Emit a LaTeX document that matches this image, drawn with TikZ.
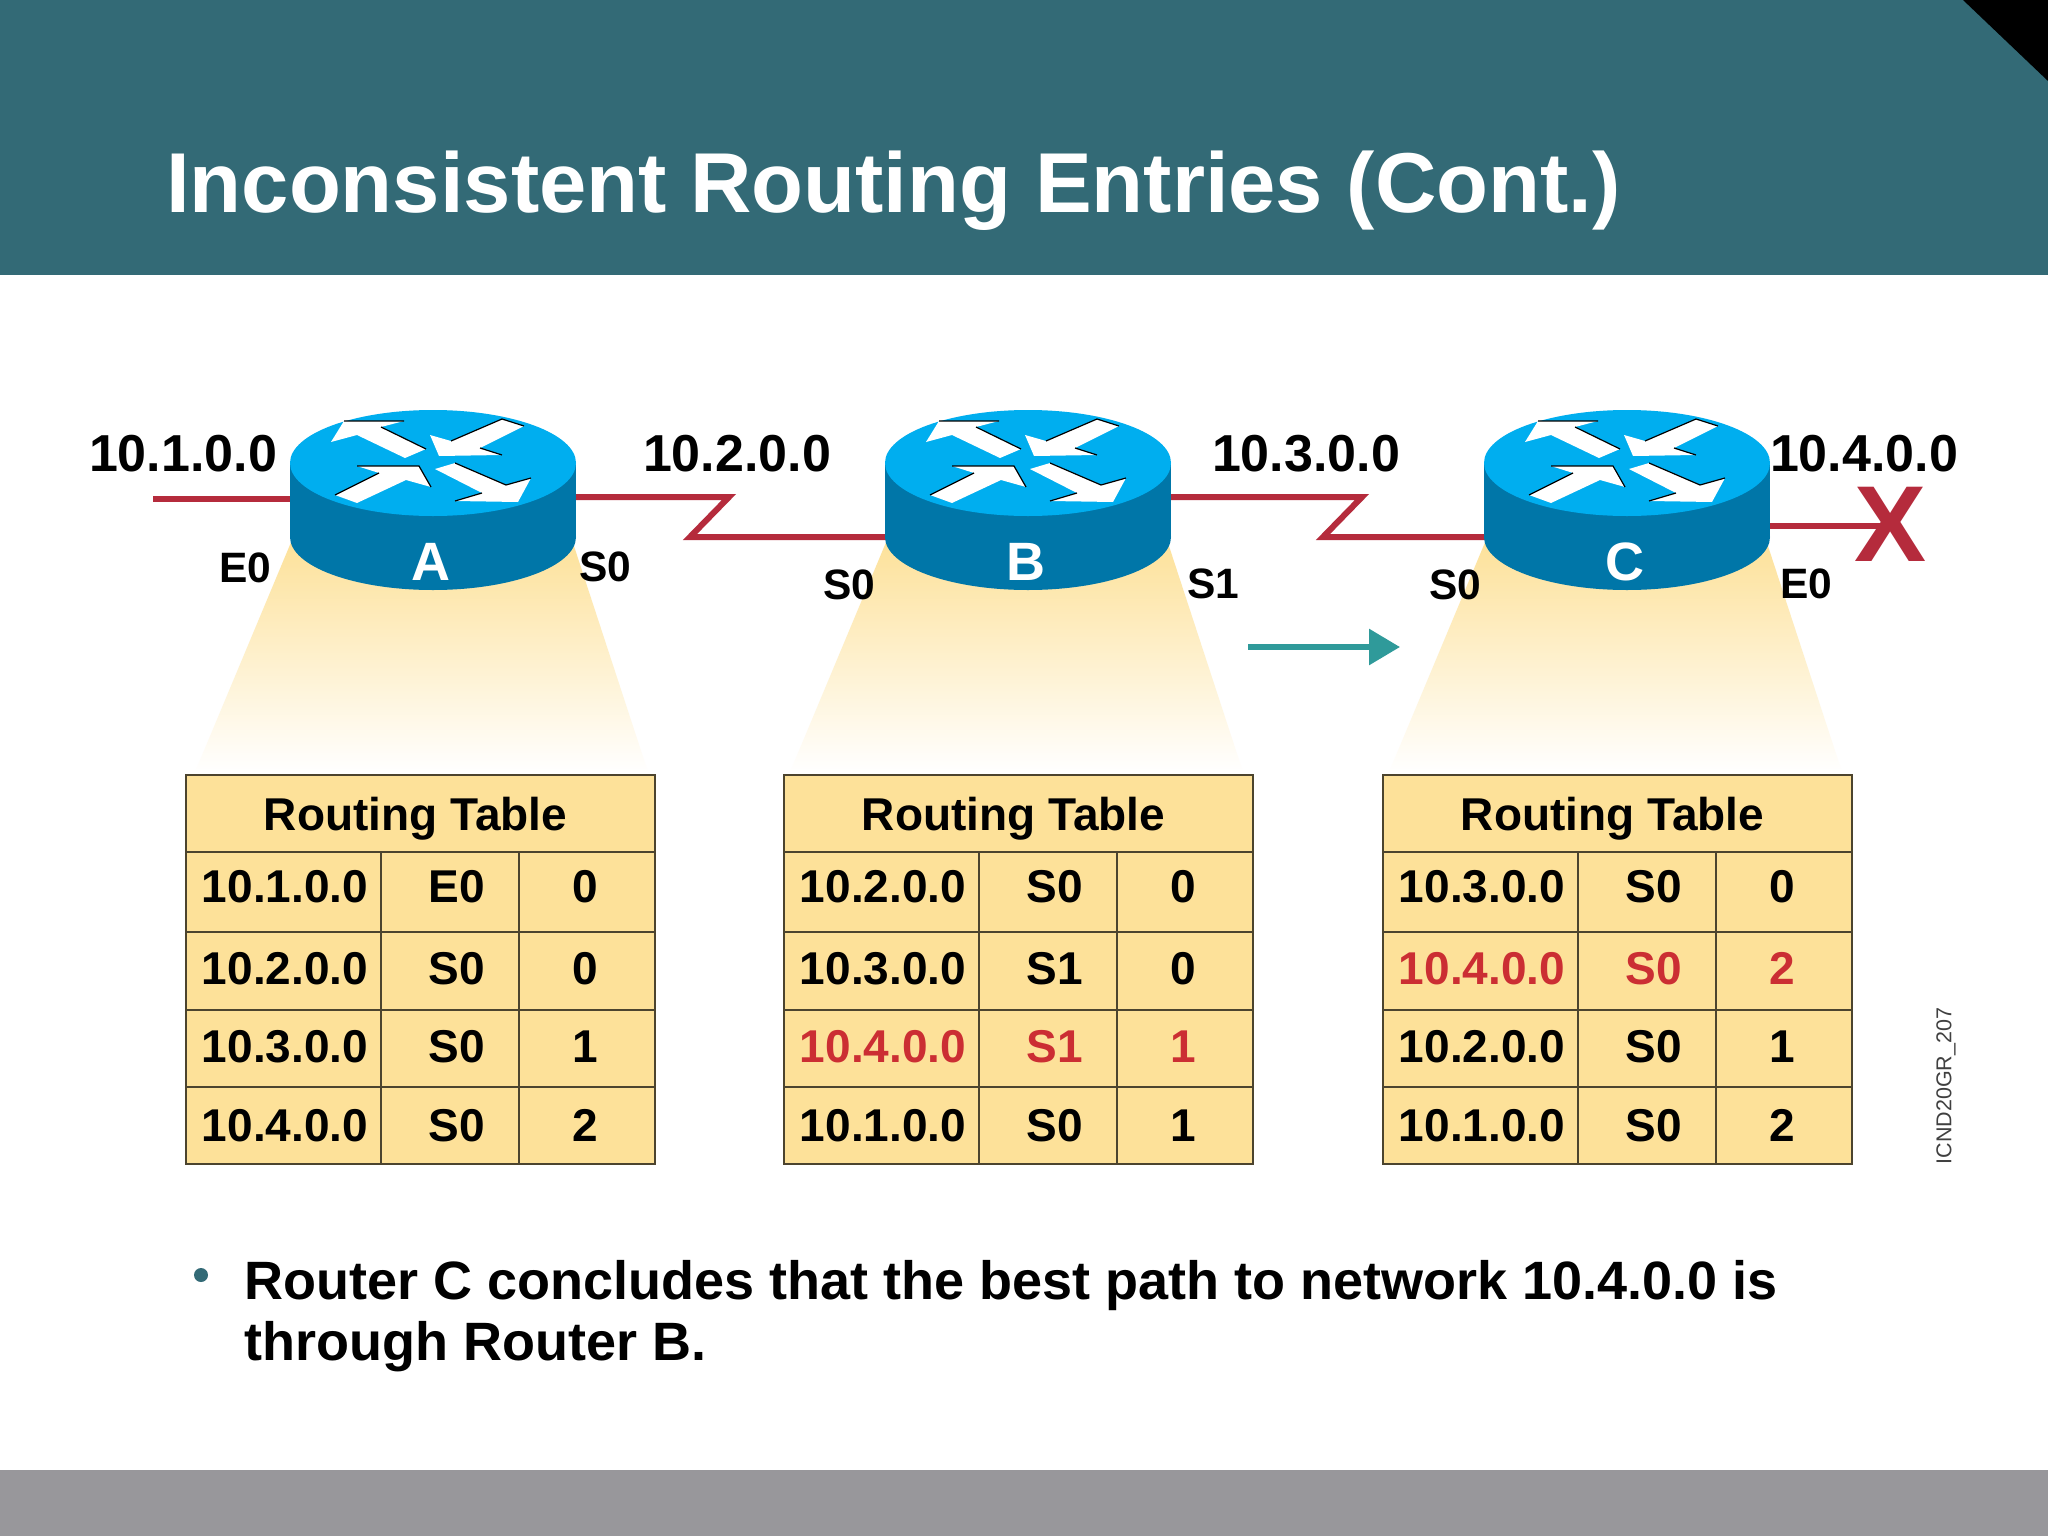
\documentclass[tikz,border=0pt]{standalone}
\usepackage{fontspec}
\setmainfont{Liberation Sans}
\usetikzlibrary{arrows.meta}

\definecolor{headteal}{HTML}{336A76}
\definecolor{footgrey}{HTML}{98979B}
\definecolor{routertop}{HTML}{00AEEF}
\definecolor{routerside}{HTML}{0076A8}
\definecolor{linkred}{HTML}{B52B3C}
\definecolor{tablefill}{HTML}{FDE199}
\definecolor{tablered}{HTML}{CB2E33}
\definecolor{arrowteal}{HTML}{2F9A9A}

\tikzset{
  netlabel/.style={inner sep=0pt, font=\fontsize{52}{52}\selectfont\bfseries},
  portlabel/.style={inner sep=0pt, font=\fontsize{42.5}{42.5}\selectfont\bfseries},
  routername/.style={inner sep=0pt, text=white, font=\fontsize{54}{54}\selectfont\bfseries},
  cell/.style={inner sep=0pt, anchor=base, font=\fontsize{46}{46}\selectfont\bfseries},
  grid line/.style={draw=black!70!tablefill, line width=2pt},
  link/.style={draw=linkred, line width=6pt, line join=miter},
  arrowwhite/.style={fill=white},
  arrowshadow/.style={draw=black, line width=1.2pt}
}

\newcommand{\routericon}[2]{
  \shade[top color=tablefill, bottom color=white]
    (#2-141,540) -- (#2+139,540) -- (#2+215,772) -- (#2-238,772) -- cycle;
  \begin{scope}[shift={(#2,463)}]
    \fill[routerside] (0,74) ellipse (143pt and 53pt);
    \fill[routerside] (-143,0) rectangle (143,74);
    \fill[routertop] (0,0) ellipse (143pt and 53pt);
    \fill[arrowwhite] (-89,-42) -- (-29,-42) -- (-52,-36) -- (-7,-14) -- (-28,-5) -- (-76,-28) -- (-102,-21) -- cycle;
    \draw[arrowshadow] (-89,-42) -- (-29,-42) (-52,-36) -- (-7,-14);
    \fill[arrowwhite] (69,-44) -- (91,-37) -- (47,-15) -- (69,-8) -- (6,-7) -- (-3,-28) -- (18,-22) -- cycle;
    \draw[arrowshadow] (18,-22) -- (69,-44) -- (91,-37) (47,-15) -- (69,-8);
    \fill[arrowwhite] (-98,32) -- (-76,40) -- (-27,17) -- (-2,24) -- (-14,3) -- (-76,3) -- (-54,10) -- cycle;
    \draw[arrowshadow] (-76,3) -- (-14,3) -- (-2,24) (-98,32) -- (-54,10);
    \fill[arrowwhite] (2,6) -- (22,0) -- (73,22) -- (98,15) -- (85,39) -- (22,38) -- (49,30) -- cycle;
    \draw[arrowshadow] (22,0) -- (73,22) -- (98,15) (22,38) -- (49,30);
  \end{scope}
  \node[routername] (#1) at (#2-2,99+463) {#1};
}

\newcommand{\routingtable}[3]{
  \begin{scope}[xshift=#2pt]
    \fill[tablefill] (186,775) rectangle (655,1164);
    \draw[grid line] (186,775) rectangle (655,1164);
    \foreach \liney in {852,932,1010,1087}
      \draw[grid line] (186,\liney) -- (655,\liney);
    \foreach \linex in {381,519}
      \draw[grid line] (\linex,852) -- (\linex,1164);
    \node[cell] (#1title) at (415.5,830) {Routing Table};
    \foreach \net/\port/\hop/\rowcol [count=\rownum] in {#3} {
      \pgfmathsetmacro{\rowy}{{902,984,1062,1141}[\rownum-1]}
      \node[cell, text=\rowcol] (#1net\rownum) at (285,\rowy) {\net};
      \node[cell, text=\rowcol] (#1port\rownum) at (457,\rowy) {\port};
      \node[cell, text=\rowcol] (#1hop\rownum) at (585.5,\rowy) {\hop};
    }
  \end{scope}
}

\begin{document}
\begin{tikzpicture}[x=1pt, y=-1pt]
  \useasboundingbox (0,0) rectangle (2048,1536);
  \fill[white] (0,0) rectangle (2048,1536);
  \fill[headteal] (0,0) rectangle (2048,275);
  \fill[black] (1963,0) -- (2048,0) -- (2048,81) -- cycle;
  \fill[footgrey] (0,1470) rectangle (2048,1536);
  \node[anchor=base west, inner sep=0pt, text=white, font=\fontsize{85}{85}\selectfont\bfseries] (title) at (166,212) {Inconsistent Routing Entries (Cont.)};

  \coordinate (lan1) at (153,499);
  \coordinate (Aleft) at (292,499);
  \coordinate (Aright) at (574,497);
  \coordinate (zigA1) at (729,497);
  \coordinate (zigA2) at (690,537);
  \coordinate (Bleft) at (887,537);
  \coordinate (Bright) at (1168,497);
  \coordinate (zigB1) at (1362,497);
  \coordinate (zigB2) at (1323,537);
  \coordinate (Cleft) at (1487,537);
  \coordinate (Cright) at (1768,526);
  \node[inner sep=0pt, text=linkred, font=\fontsize{108}{108}\selectfont\bfseries] (fail) at (1890,524) {X};

  \draw[link] (lan1) -- (Aleft);
  \draw[link] (Aright) -- (zigA1) -- (zigA2) -- (Bleft);
  \draw[link] (Bright) -- (zigB1) -- (zigB2) -- (Cleft);
  \draw[link] (Cright) -- (Cright -| fail.center);

  \routericon{A}{433}
  \routericon{B}{1028}
  \routericon{C}{1627}

  \node[netlabel] (net1) at (183,454) {10.1.0.0};
  \node[netlabel] (net2) at (737,454) {10.2.0.0};
  \node[netlabel] (net3) at (1306,454) {10.3.0.0};
  \node[netlabel] (net4) at (1864,454) {10.4.0.0};
  \node[portlabel] (Ae0) at (245,568) {E0};
  \node[portlabel] (As0) at (605,567) {S0};
  \node[portlabel] (Bs0) at (849,585) {S0};
  \node[portlabel] (Bs1) at (1213,584) {S1};
  \node[portlabel] (Cs0) at (1455,585) {S0};
  \node[portlabel] (Ce0) at (1806,584) {E0};

  \coordinate (flowstart) at (1248,647);
  \coordinate (flowend) at (1400,647);
  \draw[arrowteal, line width=6pt, -{Triangle[length=31pt,width=35pt]}] (flowstart) -- (flowend);

  \routingtable{tA}{0}{10.1.0.0/E0/0/black,10.2.0.0/S0/0/black,10.3.0.0/S0/1/black,10.4.0.0/S0/2/black}
  \routingtable{tB}{598}{10.2.0.0/S0/0/black,10.3.0.0/S1/0/black,10.4.0.0/S1/1/tablered,10.1.0.0/S0/1/black}
  \routingtable{tC}{1197}{10.3.0.0/S0/0/black,10.4.0.0/S0/2/tablered,10.2.0.0/S0/1/black,10.1.0.0/S0/2/black}

  \node[rotate=90, inner sep=0pt, text=black!75, font=\fontsize{21.5}{21.5}\selectfont] (figid) at (1946,1086) {ICND20GR\_207};

  \fill[headteal] (201,1275) circle (7pt);
  \node[anchor=base west, inner sep=0pt, font=\fontsize{54}{54}\selectfont\bfseries] (bullet1) at (244,1299) {Router C concludes that the best path to network 10.4.0.0 is};
  \node[anchor=base west, inner sep=0pt, font=\fontsize{54}{54}\selectfont\bfseries] (bullet2) at (244,1360) {through Router B.};
\end{tikzpicture}
\end{document}
